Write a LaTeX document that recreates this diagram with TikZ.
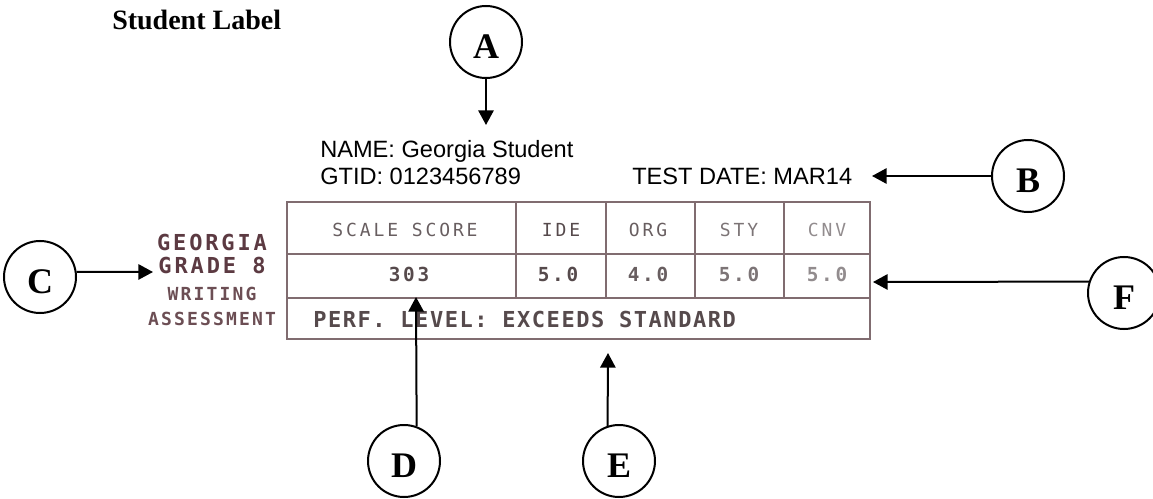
\documentclass[tikz,border=0pt]{standalone}
\usepackage{fontspec}
\setmainfont{Liberation Serif}
\newfontfamily\arialf{Liberation Sans}
\newfontfamily\lblbold[LetterSpace=13]{DejaVu Sans Mono Bold}
\newfontfamily\lblsmall[LetterSpace=12]{DejaVu Sans Mono Bold}
\newfontfamily\hdrf[LetterSpace=16]{DejaVu Sans Mono}
\newfontfamily\valf[LetterSpace=14]{DejaVu Sans Mono Bold}
\newfontfamily\perff[LetterSpace=7]{DejaVu Sans Mono Bold}
\usetikzlibrary{arrows.meta}
\definecolor{tline}{RGB}{128,108,112}
\definecolor{maroon}{RGB}{92,58,66}
\definecolor{maroonl}{RGB}{108,78,84}
\definecolor{tx1}{RGB}{86,74,76}
\definecolor{tx2}{RGB}{104,94,96}
\definecolor{tx3}{RGB}{124,116,118}
\definecolor{tx4}{RGB}{146,140,142}
\begin{document}
\begin{tikzpicture}[x=0.75pt,y=-0.75pt,
  circ/.style={circle,draw,line width=1.5pt,minimum size=54pt,inner sep=0pt,
    font=\bfseries\fontsize{27}{27}\selectfont,text height=25pt,text depth=0pt},
  arr/.style={line width=1.5pt,-{Triangle[length=11pt,width=11.5pt]}},
  tbl/.style={draw=tline,line width=1.2pt},
  sans/.style={anchor=base west,inner sep=0pt,font=\arialf\fontsize{17.7}{20}\selectfont},
  lbl/.style={anchor=base,inner sep=0pt,text=maroon,font=\lblbold\fontsize{16.5}{16.5}\selectfont},
  lbls/.style={anchor=base,inner sep=0pt,text=maroonl,font=\lblsmall\fontsize{13.5}{13.5}\selectfont},
  hdr/.style={anchor=base,inner sep=0pt,font=\hdrf\fontsize{13.5}{13.5}\selectfont},
  val/.style={anchor=base,inner sep=0pt,font=\valf\fontsize{14.5}{14.5}\selectfont},
]
\useasboundingbox (0,0) rectangle (1153,499);

% title
\node[anchor=base west,inner sep=0pt,font=\bfseries\fontsize{21}{21}\selectfont] (title) at (112,30) {Student Label};

% header texts
\node[sans] (name) at (320,158) {NAME: Georgia Student};
\node[sans] (gtid) at (320,185) {GTID: 0123456789};
\node[sans] (date) at (632,185) {TEST DATE: MAR14};

% table
\draw[tbl] (287,202) rectangle (870,339);
\draw[tbl] (287,254) -- (870,254);
\draw[tbl] (287,298) -- (870,298);
\foreach \x in {516,606,695,784} \draw[tbl] (\x,202) -- (\x,298);

\node[hdr,text=tx2] (hscale) at (405,236) {SCALE SCORE};
\node[hdr,text=tx1] (hide) at (561,236) {IDE};
\node[hdr,text=tx2] (horg) at (648,236) {ORG};
\node[hdr,text=tx3] (hsty) at (739,236) {STY};
\node[hdr,text=tx4] (hcnv) at (827,236) {CNV};

\node[val,text=tx1] (vscale) at (409,281) {303};
\node[val,text=tx1] (vide) at (558,281) {5.0};
\node[val,text=tx2] (vorg) at (648,281) {4.0};
\node[val,text=tx3] (vsty) at (739,281) {5.0};
\node[val,text=tx4] (vcnv) at (827,281) {5.0};

\node[anchor=base west,inner sep=0pt,text=tx1,font=\perff\fontsize{16.5}{16.5}\selectfont] (perf) at (313,327) {PERF. LEVEL: EXCEEDS STANDARD};

% left label
\node[lbl] (georgia) at (212,250) {GEORGIA};
\node[lbl] (grade) at (212,273) {GRADE 8};
\node[lbls] (writing) at (212,300) {WRITING};
\node[lbls] (assess) at (212,325) {ASSESSMENT};

% circles
\node[circ] (A) at (486,42) {A};
\node[circ] (B) at (1028,176) {B};
\node[circ] (C) at (40,277) {C};
\node[circ] (D) at (404,461) {D};
\node[circ] (E) at (619,461) {E};
\node[circ] (F) at (1124,293) {F};

% arrow tips
\coordinate (tA) at (486,125);
\coordinate (tB) at (872,176);
\coordinate (tC) at (153,272);
\coordinate (tD) at (416,297);
\coordinate (tE) at (608,353);
\coordinate (tF) at (873,282);

\draw[arr] (A.south) -- (tA);
\draw[arr] (B.west) -- (tB);
\draw[arr] (C.8) -- (tC);
\draw[arr] (D.70) -- (tD);
\draw[arr] (E.108) -- (tE);
\draw[arr] (F.162) -- (tF);
\end{tikzpicture}
\end{document}
